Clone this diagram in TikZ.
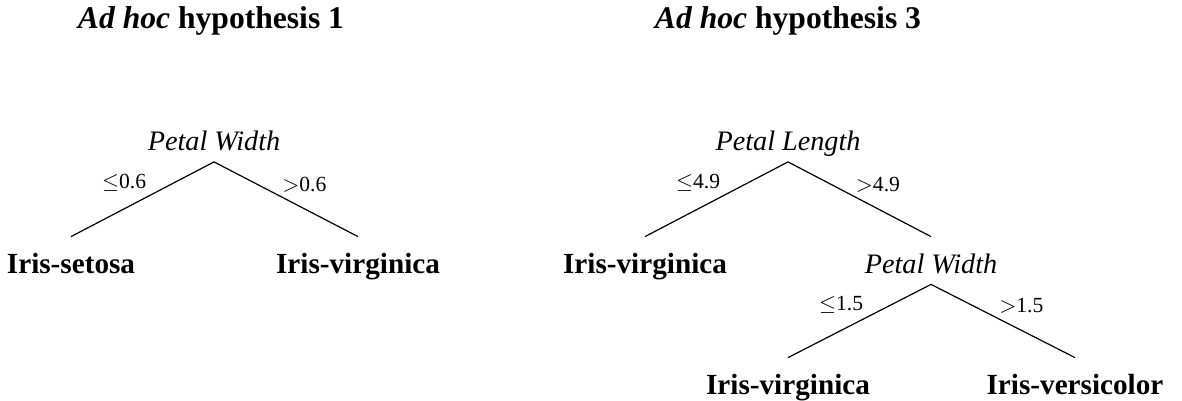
\documentclass[tikz,border=0pt]{standalone}
\usepackage{fontspec}
\setmainfont{Liberation Serif}
\begin{document}
\begin{tikzpicture}[x=0.5pt, y=-0.5pt,
  title node/.style={font=\fontsize{15.8}{18}\selectfont\bfseries, anchor=base, inner sep=0pt},
  split node/.style={font=\fontsize{14.1}{17}\selectfont\itshape, anchor=base, inner sep=0pt, text height=18pt, text depth=5.5pt},
  class node/.style={font=\fontsize{14.6}{17}\selectfont\bfseries, anchor=base, inner sep=0pt, text height=18pt, text depth=5.5pt},
  test/.style={font=\fontsize{10.8}{13}\selectfont, inner sep=1.5pt, pos=0.45}]
        \useasboundingbox (0,0) rectangle (1182,401);

          % hypothesis 1
          \node[title node] (t1) at (211,29) {\textit{Ad hoc} hypothesis 1};
          \node[split node] (1) at (214,150.5) {Petal Width};
          \node[class node] (2) at (71,273) {Iris-setosa};
          \node[class node] (3) at (358,273) {Iris-virginica};

          % hypothesis 3
          \node[title node] (t3) at (788,29) {\textit{Ad hoc} hypothesis 3};
          \node[split node] (4) at (788,150.5) {Petal Length};
          \node[class node] (5) at (645,273) {Iris-virginica};
          \node[split node] (6) at (931,273) {Petal Width};
          \node[class node] (7) at (788,394) {Iris-virginica};
          \node[class node] (8) at (1075,394) {Iris-versicolor};

          \path[draw, line width=0.6pt]
            (1.south) edge node [test, above left] {$\leq$0.6} (2.north)
                      edge node [test, above right] {$>$0.6} (3.north)
            (4.south) edge node [test, above left] {$\leq$4.9} (5.north)
                      edge node [test, above right] {$>$4.9} (6.north)
            (6.south) edge node [test, above left] {$\leq$1.5} (7.north)
                      edge node [test, above right] {$>$1.5} (8.north);

        \end{tikzpicture}
\end{document}
